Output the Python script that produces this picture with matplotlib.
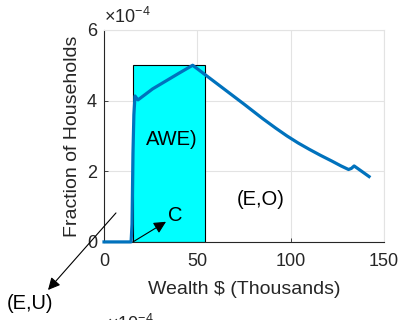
import matplotlib
matplotlib.use("Agg")
import matplotlib.pyplot as plt
from matplotlib.patches import Rectangle
from matplotlib.ticker import FuncFormatter

plt.rcParams['font.family'] = ['Liberation Sans', 'DejaVu Sans']
plt.rcParams['mathtext.fontset'] = 'custom'
plt.rcParams['mathtext.rm'] = 'Liberation Sans'

# Wealth (thousands of $) and fraction of households
wealth = [0, 14.5, 15.0, 15.5, 16.0, 16.6, 17.3, 18.2, 22, 26, 33, 40, 47.5,
          55, 65, 75, 85, 92, 98, 104, 110, 116, 122, 127, 131, 132.5, 134,
          138, 142]
fraction = [0, 0, 0.5e-4, 2.5e-4, 3.6e-4, 4.13e-4, 4.08e-4, 4.02e-4, 4.17e-4,
            4.33e-4, 4.55e-4, 4.77e-4, 5.0e-4, 4.70e-4, 4.30e-4, 3.90e-4,
            3.49e-4, 3.22e-4, 3.00e-4, 2.80e-4, 2.62e-4, 2.45e-4, 2.29e-4,
            2.15e-4, 2.05e-4, 2.08e-4, 2.15e-4, 2.0e-4, 1.85e-4]

# shaded region (AWE)
region_x = [15.5, 54]
region_top = 5e-4

xticks = [0, 50, 100, 150]
yticks = [0, 2e-4, 4e-4, 6e-4]

txt = '#262626'
fig = plt.figure(figsize=(4.01, 3.2), dpi=100)
ax = fig.add_axes([0.2594, 0.244, 0.6982, 0.6625])

ax.add_patch(Rectangle((region_x[0], 0), region_x[1] - region_x[0], region_top,
                       facecolor='cyan', edgecolor='black', lw=0.8, zorder=2))
ax.plot(wealth, fraction, color='#0072BD', lw=2.3, zorder=3, clip_on=False,
        solid_joinstyle='round')

ax.set_xlim(0, 150)
ax.set_ylim(0, 6e-4)
ax.set_xticks(xticks)
ax.set_yticks(yticks)
ax.yaxis.set_major_formatter(FuncFormatter(lambda v, p: f"{v * 1e4:g}"))
ax.tick_params(direction='in', length=3, labelsize=13, colors=txt, width=0.6)
ax.tick_params(axis='x', pad=8)
ax.tick_params(axis='y', pad=5)
ax.set_axisbelow(True)
ax.grid(color='#e3e3e3', lw=0.8)
for s in ['top', 'right']:
    ax.spines[s].set_color('#e3e3e3')
for s in ['left', 'bottom']:
    ax.spines[s].set_color(txt)
    ax.spines[s].set_linewidth(0.8)

ax.set_xlabel(r'Wealth \$ (Thousands)', fontsize=14, color=txt, labelpad=8)
ax.set_ylabel('Fraction of Households', fontsize=14, color=txt, labelpad=4)
ax.text(0.0, 1.015, r'$\times10^{-4}$', transform=ax.transAxes, fontsize=13,
        color=txt, va='bottom', ha='left')

ax.text(36.4, 2.89e-4, 'AWE)', fontsize=14.5, ha='center', va='center')
ax.text(84, 1.19e-4, '(E,O)', fontsize=14.5, ha='center', va='center')

ax.annotate('', xy=(33.2, 0.57e-4), xytext=(15.5, 0),
            annotation_clip=False,
            arrowprops=dict(arrowstyle='-|>', color='black', lw=0.8,
                            mutation_scale=18, shrinkA=0, shrinkB=0))
ax.text(34.5, 0.76e-4, 'C', fontsize=14.5, ha='left', va='center')
ax.annotate('', xy=(-30, -1.36e-4), xytext=(6.4, 0.82e-4),
            annotation_clip=False,
            arrowprops=dict(arrowstyle='-|>', color='black', lw=0.8,
                            mutation_scale=18, shrinkA=0, shrinkB=0))
ax.text(-39.6, -1.73e-4, '(E,U)', fontsize=14.5, ha='center', va='center',
        clip_on=False)

# offset label of the subplot below, cut by the figure edge
fig.text(0.268, -0.03, r'$\times10^{-4}$', fontsize=13, color=txt,
         va='baseline', ha='left')

fig.savefig('out.png', dpi=100)
